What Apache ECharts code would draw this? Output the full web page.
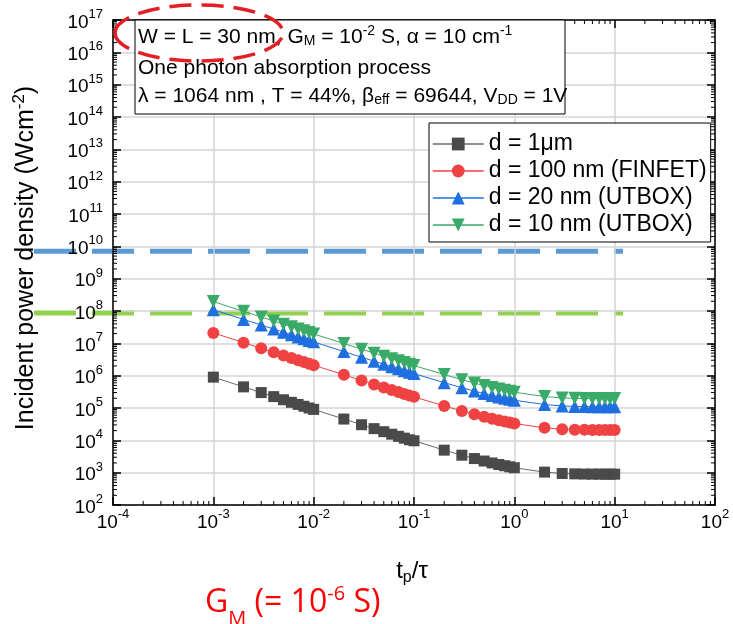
<!DOCTYPE html>
<html><head><meta charset="utf-8">
<script src="https://cdn.jsdelivr.net/npm/echarts@6/dist/echarts.min.js"></script>
<style>html,body{margin:0;padding:0;background:#fff}#c{width:733px;height:624px}</style>
</head><body><div id="c"></div>
<script>
// ---------------- data ----------------
const tpTau = [0.001,0.002,0.003,0.004,0.005,0.006,0.007,0.008,0.009,
  0.01,0.02,0.03,0.04,0.05,0.06,0.07,0.08,0.09,
  0.1,0.2,0.3,0.4,0.5,0.6,0.7,0.8,0.9,
  1,2,3,4,5,6,7,8,9,10];
const d1um = [9.0e5,4.5e5,3.0e5,2.25e5,1.8e5,1.5e5,1.29e5,1.13e5,1.0e5,
  9.05e4,4.55e4,3.04e4,2.3e4,1.85e4,1.55e4,1.33e4,1.17e4,1.04e4,
  9.7e3,4.97e3,3.47e3,2.73e3,2.29e3,2.0e3,1.79e3,1.64e3,1.52e3,
  1.42e3,1.04e3,945,918,906,902,901,900,900,900];
const d100nm = [2.1e7,1.05e7,7.0e6,5.26e6,4.21e6,3.51e6,3.01e6,2.64e6,2.34e6,
  2.11e6,1.06e6,7.1e5,5.36e5,4.31e5,3.61e5,3.11e5,2.73e5,2.44e5,
  2.21e5,1.16e5,8.1e4,6.36e4,5.33e4,4.66e4,4.18e4,3.82e4,3.55e4,
  3.32e4,2.43e4,2.2e4,2.14e4,2.11e4,2.1e4,2.1e4,2.1e4,2.1e4,2.1e4];
const d20nm = [1.1e8,5.5e7,3.67e7,2.76e7,2.21e7,1.84e7,1.58e7,1.38e7,1.23e7,
  1.11e7,5.56e6,3.72e6,2.81e6,2.26e6,1.89e6,1.63e6,1.43e6,1.28e6,
  1.16e6,6.07e5,4.25e5,3.33e5,2.79e5,2.44e5,2.19e5,2.0e5,1.86e5,
  1.74e5,1.28e5,1.16e5,1.12e5,1.11e5,1.1e5,1.1e5,1.1e5,1.1e5,1.1e5];
const d10nm = [1.95e8,9.76e7,6.51e7,4.88e7,3.91e7,3.26e7,2.80e7,2.45e7,2.18e7,
  1.96e7,9.85e6,6.59e6,4.97e6,4.0e6,3.35e6,2.89e6,2.54e6,2.26e6,
  2.05e6,1.08e6,7.53e5,5.91e5,4.95e5,4.33e5,3.88e5,3.55e5,3.30e5,
  3.08e5,2.26e5,2.05e5,1.99e5,1.96e5,1.95e5,1.95e5,1.95e5,1.95e5,1.95e5];
const seriesNames = ['d = 1μm','d = 100 nm (FINFET)','d = 20 nm (UTBOX)','d = 10 nm (UTBOX)'];
const xTickExps = [-4,-3,-2,-1,0,1,2];
const yTickExps = [2,3,4,5,6,7,8,9,10,11,12,13,14,15,16,17];
const blueLimit = 7.0e9;
const greenLimit = 8.7e7;
const limitSpan = [1.63e-5, 12.1];
const annotLine1 = '{b|W = L = 30 nm, G}{sub|M}{b| = 10}{sup|-2}{b| S, α = 10 cm}{sup|-1}';
const annotLine2 = '{b|One photon absorption process}';
const annotLine3 = '{b|λ = 1064 nm , T = 44%, β}{sub|eff}{b| = 69644, V}{sub|DD}{b| = 1V}';
const yTitle = '{b|Incident power density (Wcm}{sup|-2}{b|)}';
const xTitle = '{b|t}{sub|p}{b|/τ}';
const gmText = '{b|G}{sub|M}{b| (= 10}{sup|-6}{b| S)}';

// ---------------- chart ----------------
const FONT = 'Liberation Sans';
const XMIN = 1e-4, XMAX = 1e2, YMIN = 1e2, YMAX = 1e17;
const chart = echarts.init(document.getElementById('c'), null, {renderer:'canvas', width:733, height:624});

function expLabel(exps) {
  return v => { const e = Math.round(Math.log10(v)); return exps.includes(e) ? '{b|10}{s|' + e + '}' : ''; };
}
const tickRich = {
  b:{fontSize:19, fontFamily:FONT, color:'#000', lineHeight:24, verticalAlign:'bottom'},
  s:{fontSize:13, fontFamily:FONT, color:'#000', lineHeight:13, verticalAlign:'top'}
};
const axisLineS = {show:true, onZero:false, lineStyle:{color:'#000', width:1.5}};
const tickS = {show:true, inside:true, length:8, lineStyle:{color:'#000', width:1.5}};
const splitS = {show:true, lineStyle:{color:'#d4d4d4', width:1.5}};

function minorVals(lo, hi) {
  const out = [];
  for (let e = lo; e < hi; e++) for (let k = 2; k <= 9; k++) out.push(k * Math.pow(10, e));
  return out;
}
function lineEl(x1,y1,x2,y2){return {type:'line', shape:{x1,y1,x2,y2}, style:{stroke:'#000', lineWidth:1}};}

function richText(x, y, text, rich, font, color, align, rotation) {
  const el = {type:'text', x, y, z:11, style:{text, rich, font, fill:color, align:align,
    verticalAlign:'middle', textAlign:align, textVerticalAlign:'middle'}};
  if (rotation) el.rotation = rotation;
  return el;
}
// superscript raised by supOff px, subscript lowered by subOff px (via padding)
function mkRich(fam, base, small, supOff, subOff, color) {
  return {
    b:{fontSize:base, fontFamily:fam, fill:color, verticalAlign:'middle'},
    sup:{fontSize:small, fontFamily:fam, fill:color, verticalAlign:'middle', padding:[0,0,2*supOff,0]},
    sub:{fontSize:small, fontFamily:fam, fill:color, verticalAlign:'middle', padding:[2*subOff,0,0,0]}
  };
}

const mk = (arr) => tpTau.map((x, i) => [x, arr[i]]);

const option = {
  animation:false,
  backgroundColor:'#fff',
  textStyle:{fontFamily:FONT},
  grid:[
    {left:113, right:18, top:20, bottom:119, containLabel:false},
    {left:0, right:18, top:20, bottom:119, containLabel:false}
  ],
  xAxis:[
    {type:'log', gridIndex:0, min:XMIN, max:XMAX, interval:1, logBase:10, position:'bottom', z:1,
      axisLine:axisLineS, axisTick:tickS, axisLabel:{margin:3, formatter:expLabel(xTickExps), rich:tickRich},
      splitLine:splitS},
    {type:'log', gridIndex:0, min:XMIN, max:XMAX, interval:1, logBase:10, position:'top', z:1,
      axisLine:axisLineS, axisTick:tickS, axisLabel:{show:false}, splitLine:{show:false}},
    {type:'log', gridIndex:1, min:7.47e-6, max:XMAX, logBase:10, show:false}
  ],
  yAxis:[
    {type:'log', gridIndex:0, min:YMIN, max:YMAX, interval:1, logBase:10, position:'left', z:1,
      axisLine:axisLineS, axisTick:tickS, axisLabel:{margin:10, formatter:expLabel(yTickExps), rich:tickRich},
      splitLine:splitS},
    {type:'log', gridIndex:0, min:YMIN, max:YMAX, interval:1, logBase:10, position:'right', z:1,
      axisLine:axisLineS, axisTick:tickS, axisLabel:{show:false}, splitLine:{show:false}},
    {type:'log', gridIndex:1, min:YMIN, max:YMAX, logBase:10, show:false}
  ],
  legend:{
    data:seriesNames, orient:'vertical', left:429, top:123,
    itemWidth:51, itemHeight:16, itemGap:3,
    padding:[9,4,5,3], borderColor:'#000', borderWidth:1, backgroundColor:'#fff',
    textStyle:{fontSize:23, fontFamily:FONT, color:'#000', lineHeight:24},
    lineStyle:{width:1.5}, selectedMode:false
  },
  series:[
    {type:'line', xAxisIndex:2, yAxisIndex:2, data:limitSpan.map(x => [x, blueLimit]), symbol:'none', silent:true, z:0,
      lineStyle:{color:'#5B9BD5', width:5, type:[42,16], cap:'butt'}},
    {type:'line', xAxisIndex:2, yAxisIndex:2, data:limitSpan.map(x => [x, greenLimit]), symbol:'none', silent:true, z:0,
      lineStyle:{color:'#92D050', width:5, type:[42,16], cap:'butt'}},
    {name:seriesNames[0], type:'line', data:mk(d1um), symbol:'rect', symbolSize:11,
      itemStyle:{color:'#4a4a4a'}, lineStyle:{color:'#6a6a6a', width:1}},
    {name:seriesNames[1], type:'line', data:mk(d100nm), symbol:'circle', symbolSize:12,
      itemStyle:{color:'#F04242'}, lineStyle:{color:'#F04242', width:1}},
    {name:seriesNames[2], type:'line', data:mk(d20nm), symbol:'triangle', symbolSize:13,
      itemStyle:{color:'#1F6FE0'}, lineStyle:{color:'#1F6FE0', width:1}},
    {name:seriesNames[3], type:'line', data:mk(d10nm), symbol:'triangle', symbolRotate:180, symbolSize:13,
      itemStyle:{color:'#3AAA68'}, lineStyle:{color:'#3AAA68', width:1}},
    {type:'custom', silent:true, z:3, clip:false, data:minorVals(-4, 2).map(v => [v, YMIN]),
      renderItem:(p, api) => {
        const v = api.value(0);
        const b = api.coord([v, YMIN]), t = api.coord([v, YMAX]);
        return {type:'group', children:[lineEl(b[0], b[1], b[0], b[1]-4), lineEl(t[0], t[1], t[0], t[1]+4)]};
      }},
    {type:'custom', silent:true, z:3, clip:false, data:minorVals(2, 17).map(v => [XMIN, v]),
      renderItem:(p, api) => {
        const v = api.value(1);
        const l = api.coord([XMIN, v]), r = api.coord([XMAX, v]);
        return {type:'group', children:[lineEl(l[0], l[1], l[0]+4, l[1]), lineEl(r[0], r[1], r[0]-4, r[1])]};
      }}
  ],
  graphic:[
    {type:'rect', z:10, shape:{x:135, y:20, width:430, height:94}, style:{fill:'#fff', stroke:'#000', lineWidth:1}},
    richText(138, 37, annotLine1, mkRich(FONT, 21, 14, 5.5, 4.5, '#000'), '21px "Liberation Sans"', '#000', 'left'),
    richText(138, 68, annotLine2, mkRich(FONT, 21, 14, 5.5, 4.5, '#000'), '21px "Liberation Sans"', '#000', 'left'),
    richText(138, 96, annotLine3, mkRich(FONT, 21, 14, 5.5, 4.5, '#000'), '21px "Liberation Sans"', '#000', 'left'),
    {type:'ellipse', z:12, shape:{cx:199, cy:33, rx:84, ry:28},
      style:{fill:'none', stroke:'#E31E24', lineWidth:3.5, lineDash:[22,10]}},
    richText(26, 258, yTitle, mkRich(FONT, 25, 17, 7, 6, '#000'), '25px "Liberation Sans"', '#000', 'center', Math.PI/2),
    richText(412, 571, xTitle, mkRich(FONT, 24, 16, 7, 7, '#000'), '24px "Liberation Sans"', '#000', 'center'),
    richText(205, 603, gmText, mkRich('Open Sans', 32, 20, 8.5, 16, '#FF0000'), '32px "Open Sans"', '#FF0000', 'left')
  ]
};
chart.setOption(option);
</script>
</body></html>
